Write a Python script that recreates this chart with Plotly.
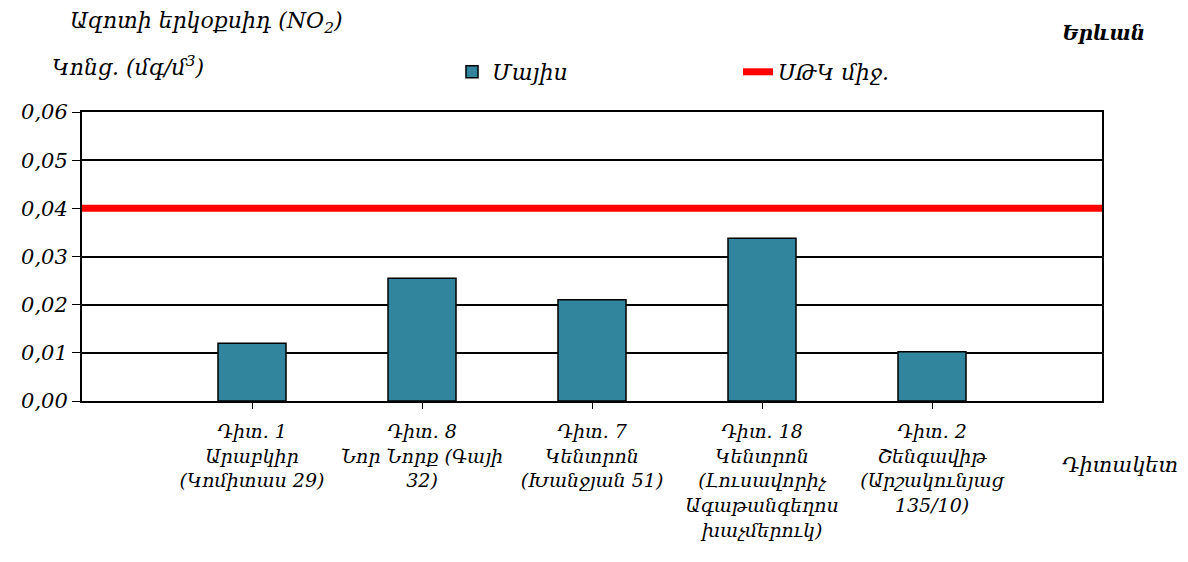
import plotly.graph_objects as go

# Data
stations = [
    "Դիտ. 1<br>Արաբկիր<br>(Կոմիտաս 29)",
    "Դիտ. 8<br>Նոր Նորք (Գայի<br>32)",
    "Դիտ. 7<br>Կենտրոն<br>(Խանջյան 51)",
    "Դիտ. 18<br>Կենտրոն<br>(Լուսավորիչ<br>Ագաթանգեղոս<br>խաչմերուկ)",
    "Դիտ. 2<br>Շենգավիթ<br>(Արշակունյաց<br>135/10)",
]
station_pos = [1, 2, 3, 4, 5]
may_values = [0.012, 0.0255, 0.021, 0.0338, 0.0102]
mac_value = 0.04
mac_x = [0, 6]

FONT = "DejaVu Serif"
BAR_COLOR = "#31859C"

# plot area in page pixels (page body adds an 8px offset)
PL, PR, PT, PB = 82, 1102, 112, 401


def px_to_paper(x, y):
    return (x - PL) / (PR - PL), (PB - y) / (PB - PT)


fig = go.Figure()

fig.add_trace(go.Bar(
    x=station_pos,
    y=may_values,
    width=0.4,
    name="Մայիս",
    marker=dict(color=BAR_COLOR, line=dict(color="black", width=1.5)),
))

fig.add_trace(go.Scatter(
    x=mac_x,
    y=[mac_value] * len(mac_x),
    mode="lines",
    name="ՍԹԿ միջ.",
    line=dict(color="#FF0000", width=7),
))

lx, ly = px_to_paper(452, 72)
fig.update_layout(
    width=1180,
    height=554,
    plot_bgcolor="white",
    paper_bgcolor="white",
    separators=", ",
    margin=dict(l=PL - 8, r=1188 - PR, t=PT - 8, b=562 - PB),
    font=dict(family=FONT, size=18, color="black", style="italic"),
    showlegend=True,
    legend=dict(
        orientation="h",
        x=lx,
        y=ly,
        xanchor="left",
        yanchor="middle",
        entrywidth=241,
        entrywidthmode="pixels",
        font=dict(family=FONT, size=22, style="italic"),
        bgcolor="rgba(0,0,0,0)",
    ),
    xaxis=dict(
        range=[0, 6],
        tickvals=station_pos,
        ticktext=stations,
        showgrid=False,
        showline=True,
        linecolor="black",
        linewidth=2,
        mirror=True,
        ticks="outside",
        ticklen=6,
        tickcolor="black",
        ticklabelstandoff=6,
        tickfont=dict(family=FONT, size=19, style="italic"),
        zeroline=False,
    ),
    yaxis=dict(
        range=[0, 0.06],
        dtick=0.01,
        tickformat=".2f",
        showgrid=True,
        gridcolor="black",
        gridwidth=1.5,
        showline=True,
        linecolor="black",
        linewidth=2,
        mirror=True,
        ticks="outside",
        ticklen=8,
        tickcolor="black",
        tickfont=dict(family=FONT, size=21, style="italic"),
        zeroline=False,
    ),
)

labels = [
    ("Ազոտի երկօքսիդ (NO<sub>2</sub>)", 68, 23, 22, "left"),
    ("Կոնց. (մգ/մ<sup>3</sup>)", 50, 66, 22, "left"),
    ("<b>Երևան</b>", 1147, 33, 20, "right"),
    ("Դիտակետ", 1180, 465, 21, "right"),
]
for text, x, y, size, anchor in labels:
    ax, ay = px_to_paper(x, y)
    fig.add_annotation(
        text=text, xref="paper", yref="paper", x=ax, y=ay,
        xanchor=anchor, yanchor="middle", showarrow=False,
        font=dict(family=FONT, size=size, style="italic"),
    )

fig.write_html("out.html")
